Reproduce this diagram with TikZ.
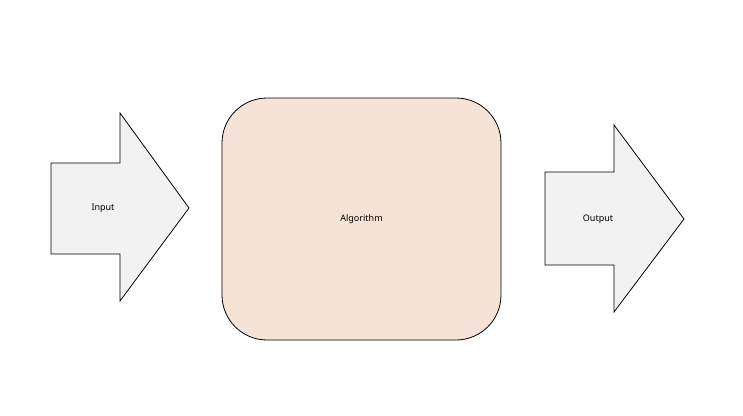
\documentclass[tikz,border=0pt]{standalone}
\usepackage{fontspec}
\setmainfont{Noto Sans}
\usetikzlibrary{positioning}
\definecolor{algofill}{HTML}{F5E3D8}
\definecolor{iofill}{HTML}{F2F2F2}
\begin{document}
\begin{tikzpicture}[x=1pt,y=-1pt]
  \tikzstyle{io}=[draw, fill=iofill, line width=0.8pt, line join=miter]
  \tikzstyle{algo}=[draw, fill=algofill, line width=0.8pt, rounded corners=45pt,
    minimum width=279pt, minimum height=242pt, font=\small]

  \useasboundingbox (0,0) rectangle (743,415);

  % input arrow
  \draw[io] (51,163) -- (120,163) -- (120,113) -- (189,208) -- (120,301)
    -- (120,254) -- (51,254) -- cycle;
  \node[font=\small] (input) at (103,208) {Input};

  % algorithm block
  \node[algo] (algorithm) at (361.5,219) {Algorithm};

  % output arrow
  \draw[io] (545,172) -- (614,172) -- (614,125) -- (684,219) -- (614,312)
    -- (614,265) -- (545,265) -- cycle;
  \node[font=\small] (output) at (598,219) {Output};
\end{tikzpicture}
\end{document}
